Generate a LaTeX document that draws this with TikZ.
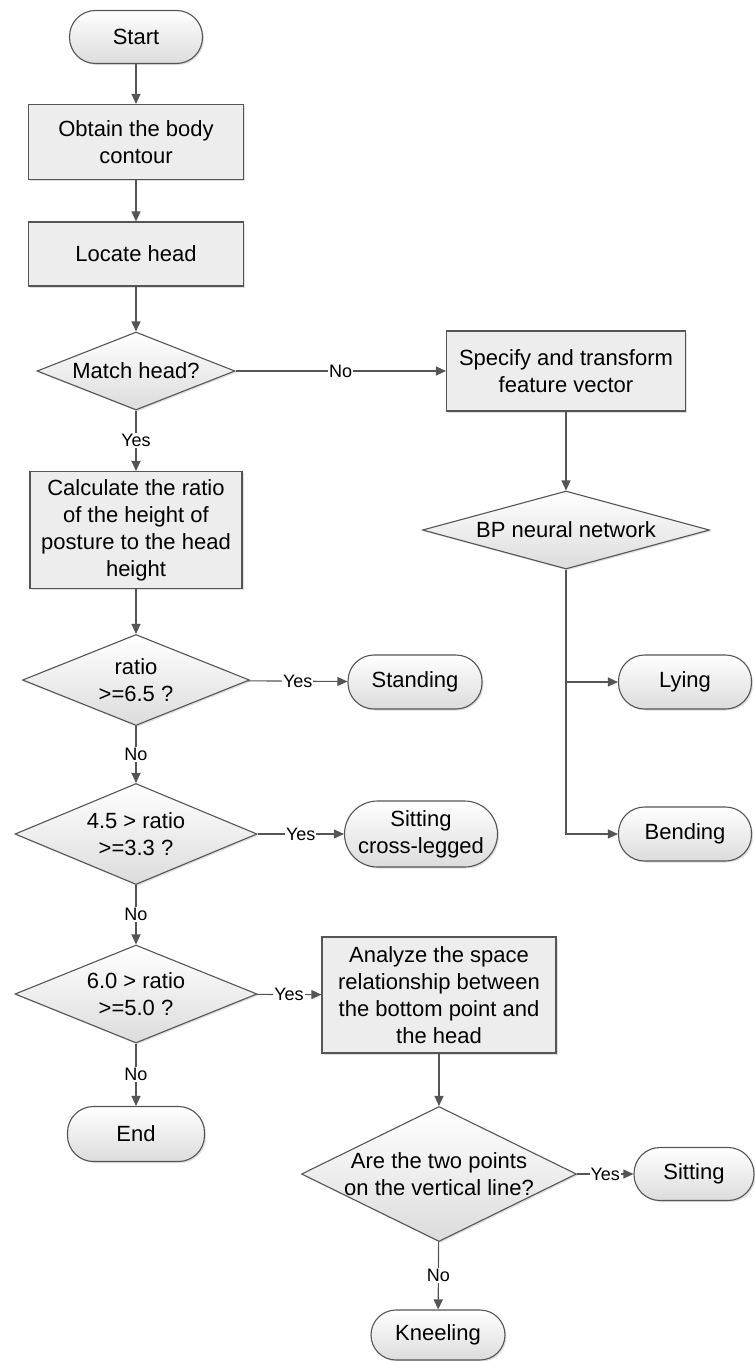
\documentclass[tikz,border=0pt]{standalone}
\usepackage{fontspec}
\setmainfont{Liberation Sans}
\usetikzlibrary{shapes.geometric,arrows.meta,shadows}
\definecolor{linegray}{RGB}{85,85,85}
\definecolor{boxgray}{RGB}{237,237,237}
\definecolor{shadegray}{RGB}{220,220,220}
\tikzset{
	process/.style={draw=linegray, line width=1.1pt, rectangle, fill=boxgray, align=center, inner sep=2pt, font=\fontsize{22}{27}\selectfont, drop shadow={shadow xshift=1.5pt, shadow yshift=-1.5pt, opacity=.25}},
	term/.style={draw=linegray, line width=1.1pt, rectangle, rounded corners=#1, top color=white, bottom color=shadegray, align=center, inner sep=2pt, font=\fontsize{22}{27}\selectfont, drop shadow={shadow xshift=1.5pt, shadow yshift=-1.5pt, opacity=.25}},
	term/.default=26pt,
	decision/.style={draw=linegray, line width=1.1pt, diamond, inner sep=0pt, top color=white, bottom color=shadegray, drop shadow={shadow xshift=1.5pt, shadow yshift=-1.5pt, opacity=.25}},
	dtext/.style={align=center, inner sep=0pt, font=\fontsize{22}{27}\selectfont},
	flow/.style={draw=linegray, line width=1.1pt, -{Triangle[length=10pt,width=9pt]}},
	answer/.style={fill=white, inner sep=1pt, font=\fontsize{18}{20}\selectfont}
}

\begin{document}
\begin{tikzpicture}[x=1pt, y=-1pt]
	\useasboundingbox (0,0) rectangle (755,1361);

	% left column
	\node[term, minimum width=133pt, minimum height=53pt] (start) at (136,37) {Start};
	\node[process, minimum width=215pt, minimum height=75pt] (contour) at (136,142) {Obtain the body\\contour};
	\node[process, minimum width=215pt, minimum height=64pt] (locate) at (136,254) {Locate head};
	\node[decision, minimum width=198pt, minimum height=78pt, label={[dtext]center:Match head?}] (match) at (136,371) {};
	\node[process, minimum width=212pt, minimum height=117pt] (ratio) at (136,530) {Calculate the ratio\\of the height of\\posture to the head\\height};
	\node[decision, minimum width=227pt, minimum height=91pt, label={[dtext]center:ratio\\>=6.5 ?}] (stand-q) at (136,680) {};
	\node[decision, minimum width=242pt, minimum height=101pt, label={[dtext]center:4.5 > ratio\\>=3.3 ?}] (cross-q) at (136,834) {};
	\node[decision, minimum width=242pt, minimum height=98pt, label={[dtext]center:6.0 > ratio\\>=5.0 ?}] (sit-q) at (136,994) {};
	\node[term, minimum width=137pt, minimum height=55pt] (end) at (136,1134) {End};

	% middle column
	\node[term, minimum width=134pt, minimum height=54pt] (standing) at (415,682) {Standing};
	\node[term=33pt, minimum width=153pt, minimum height=66pt] (crosslegged) at (421,834) {Sitting\\cross-legged};
	\node[process, minimum width=234pt, minimum height=116pt] (space) at (439,995) {Analyze the space\\relationship between\\the bottom point and\\the head};
	\node[decision, minimum width=275pt, minimum height=135pt, label={[dtext]center:Are the two points\\on the vertical line?}] (vertical) at (439,1174) {};
	\node[term=25pt, minimum width=134pt, minimum height=50pt] (kneeling) at (438,1335) {Kneeling};

	% right column
	\node[process, minimum width=239pt, minimum height=80pt] (feature) at (566,371) {Specify and transform\\feature vector};
	\node[decision, minimum width=287pt, minimum height=78pt, label={[dtext]center:BP neural network}] (bp) at (566,530) {};
	\node[term, minimum width=133pt, minimum height=54pt] (lying) at (685,682) {Lying};
	\node[term, minimum width=133pt, minimum height=54pt] (bending) at (685,834) {Bending};
	\node[term, minimum width=120pt, minimum height=53pt] (sitting) at (694,1174) {Sitting};

	\draw[flow] (start) -- (contour);
	\draw[flow] (contour) -- (locate);
	\draw[flow] (locate) -- (match);
	\draw[flow] (match) -- node[answer] {Yes} (ratio);
	\draw[flow] (match) -- node[answer] {No} (feature);
	\draw[flow] (ratio) -- (stand-q);
	\draw[flow] (stand-q) -- node[answer] {Yes} (standing);
	\draw[flow] (stand-q) -- node[answer] {No} (cross-q);
	\draw[flow] (cross-q) -- node[answer] {Yes} (crosslegged);
	\draw[flow] (cross-q) -- node[answer] {No} (sit-q);
	\draw[flow] (sit-q) -- node[answer] {Yes} (space);
	\draw[flow] (sit-q) -- node[answer] {No} (end);
	\draw[flow] (space) -- (vertical);
	\draw[flow] (vertical) -- node[answer] {Yes} (sitting);
	\draw[flow] (vertical) -- node[answer] {No} (kneeling);
	\draw[flow] (feature) -- (bp);
	\draw[flow] (bp.south |- lying.west) -- (lying.west);
	\draw[flow] (bp.south) |- (bending.west);
\end{tikzpicture}
\end{document}
